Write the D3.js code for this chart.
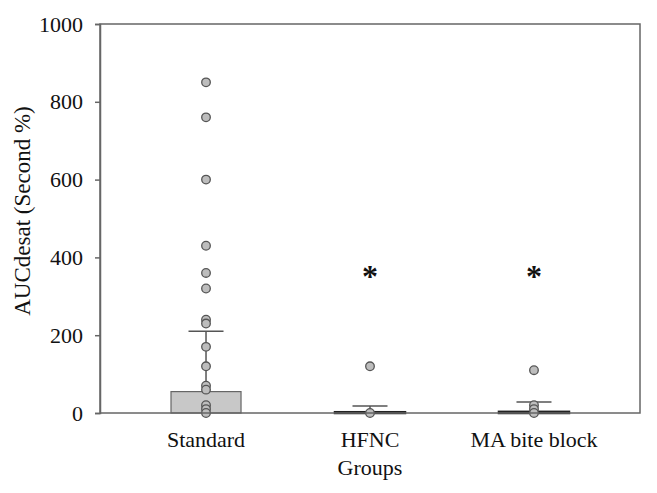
<!DOCTYPE html>
<html>
<head>
<meta charset="utf-8">
<script src="https://cdn.jsdelivr.net/npm/d3@7"></script>
<style>
  body { margin: 0; background: #fff; }
  text { font-family: "Liberation Serif", "DejaVu Serif", serif; }
</style>
</head>
<body>
<script>
// data
let groups = ["Standard", "HFNC", "MA bite block"];
let barValues = [55, 2, 3];
let errTop = [210, 18, 28];
let standardPts = [850, 760, 600, 430, 360, 320, 240, 230, 170, 120, 70, 60, 20, 10, 0];
let hfncPts = [120, 0];
let maPts = [110, 20, 10, 0];
let signif = [false, true, true];
let yTicks = [0, 200, 400, 600, 800, 1000];

let screen = {width: 657, height: 493};
let margin = {top: 24, right: 17, bottom: 80, left: 100};

let svg = d3.select("body").append("svg")
    .attr("width", screen.width)
    .attr("height", screen.height);

let xScale = d3.scaleBand()
    .domain(groups)
    .range([margin.left, screen.width - margin.right])
    .paddingInner(0.573)
    .paddingOuter(0.433);

let yScale = d3.scaleLinear()
    .domain([0, 1000])
    .range([screen.height - margin.bottom, margin.top]);

let pts = [standardPts, hfncPts, maPts];

// bars
let chart = svg.append("g");
chart.selectAll("rect.bar")
    .data(groups)
    .enter()
    .append("rect")
    .attr("class", "bar")
    .attr("x", d => xScale(d))
    .attr("width", xScale.bandwidth())
    .attr("y", (d, i) => yScale(barValues[i]))
    .attr("height", (d, i) => yScale(0) - yScale(barValues[i]))
    .attr("fill", "#c8c8c8")
    .attr("stroke", (d, i) => i == 0 ? "#666" : "#222")
    .attr("stroke-width", (d, i) => i == 0 ? 1.2 : 2.5);

// error bars
let capW = xScale.bandwidth() * 0.5;
groups.forEach(function(g, i) {
    let cx = xScale(g) + xScale.bandwidth() / 2;
    chart.append("line")
        .attr("x1", cx).attr("x2", cx)
        .attr("y1", yScale(barValues[i])).attr("y2", yScale(errTop[i]))
        .attr("stroke", "#555").attr("stroke-width", 1.5);
    chart.append("line")
        .attr("x1", cx - capW / 2).attr("x2", cx + capW / 2)
        .attr("y1", yScale(errTop[i])).attr("y2", yScale(errTop[i]))
        .attr("stroke", "#555").attr("stroke-width", 1.5);
});

// points
groups.forEach(function(g, i) {
    let cx = xScale(g) + xScale.bandwidth() / 2;
    chart.selectAll("circle.p" + i)
        .data(pts[i])
        .enter()
        .append("circle")
        .attr("class", "p" + i)
        .attr("cx", cx)
        .attr("cy", d => yScale(d))
        .attr("r", 4.3)
        .attr("fill", "#bdbdbd")
        .attr("stroke", "#555")
        .attr("stroke-width", 1.3);
    if (signif[i]) {
        chart.append("text")
            .attr("x", cx)
            .attr("y", yScale(325))
            .attr("text-anchor", "middle")
            .style("font-size", "32px")
            .style("font-weight", "bold")
            .style("fill", "#111")
            .text("*");
    }
});

// frame
svg.append("rect")
    .attr("x", margin.left)
    .attr("y", margin.top)
    .attr("width", screen.width - margin.left - margin.right)
    .attr("height", screen.height - margin.top - margin.bottom)
    .attr("fill", "none")
    .attr("stroke", "#666")
    .attr("stroke-width", 1.5);

// y axis
let yAxis = svg.append("g")
    .attr("transform", "translate(" + margin.left + ",0)")
    .call(d3.axisLeft(yScale).tickValues(yTicks).tickFormat(d3.format("d")).tickSize(5).tickPadding(12));
yAxis.select(".domain").attr("stroke", "#666").attr("stroke-width", 1.5);
yAxis.selectAll(".tick line").attr("stroke", "#666").attr("stroke-width", 1.5);
yAxis.selectAll("text")
    .style("font-family", "Liberation Serif, serif")
    .style("font-size", "22px")
    .attr("fill", "#111");

// x labels
svg.selectAll("text.xl")
    .data(groups)
    .enter()
    .append("text")
    .attr("class", "xl")
    .attr("x", d => xScale(d) + xScale.bandwidth() / 2)
    .attr("y", 447)
    .attr("text-anchor", "middle")
    .style("font-size", "22px")
    .style("fill", "#111")
    .text(d => d);

svg.append("text")
    .attr("x", xScale("HFNC") + xScale.bandwidth() / 2)
    .attr("y", 475)
    .attr("text-anchor", "middle")
    .style("font-size", "22px")
    .style("fill", "#111")
    .text("Groups");

svg.append("text")
    .attr("transform", "translate(30,211) rotate(-90)")
    .attr("text-anchor", "middle")
    .style("font-size", "23px")
    .style("fill", "#111")
    .text("AUCdesat (Second %)");
</script>
</body>
</html>
